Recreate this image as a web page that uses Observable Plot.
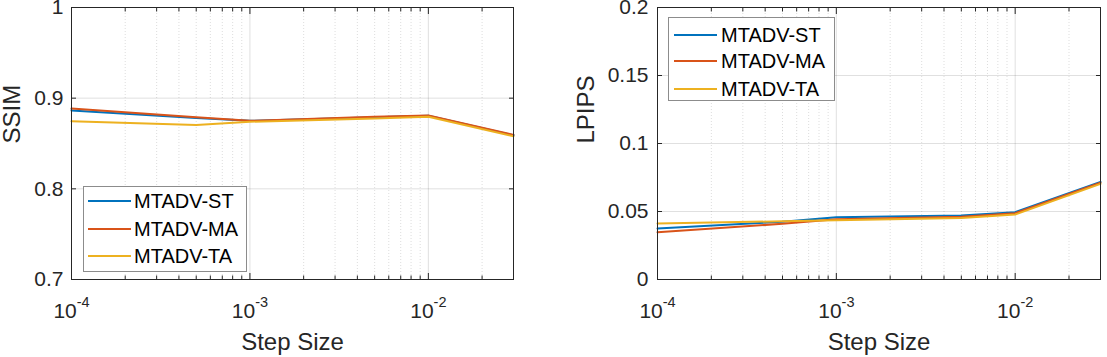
<!DOCTYPE html>
<html>
<head>
<meta charset="utf-8">
<script src="https://cdn.jsdelivr.net/npm/d3@7"></script>
<script src="https://cdn.jsdelivr.net/npm/@observablehq/plot@0.6"></script>
<style>
  html, body { margin: 0; padding: 0; background: #fff; }
  #wrap { position: relative; width: 1107px; height: 357px; overflow: hidden; font-family: "Liberation Sans", Arial, Helvetica, sans-serif; color: #262626; }
  #wrap > .panel { position: absolute; top: 0; }
  .legend { position: absolute; background: #fff; border: 1px solid #8c8c8c; box-sizing: border-box; }
  .legend .row { position: absolute; left: 0; height: 0; }
  .legend .swatch { position: absolute; height: 2px; margin-top: -1px; }
  .legend .lab { position: absolute; font-size: 20px; line-height: 20px; margin-top: -10px; white-space: nowrap; color: #000; }
</style>
</head>
<body>
<div id="wrap"></div>
<script>
// ---- data ----
const seriesNames = ["MTADV-ST", "MTADV-MA", "MTADV-TA"];
const seriesColors = ["#0072BD", "#D95319", "#EDB120"];
const stepSizes = [1e-4, 5e-4, 1e-3, 5e-3, 1e-2, 3e-2];

const ssimST = [0.8865, 0.8780, 0.8750, 0.8790, 0.8805, 0.8590];
const ssimMA = [0.8885, 0.8790, 0.8750, 0.8795, 0.8810, 0.8595];
const ssimTA = [0.8745, 0.8705, 0.8740, 0.8775, 0.8795, 0.8580];

const lpipsST = [0.0375, 0.0425, 0.0458, 0.0470, 0.0495, 0.0718];
const lpipsMA = [0.0348, 0.0410, 0.0443, 0.0462, 0.0488, 0.0712];
const lpipsTA = [0.0412, 0.0428, 0.0435, 0.0452, 0.0478, 0.0703];

const xMajorTicks = [1e-4, 1e-3, 1e-2];
const xMajorLabels = ["10^-4", "10^-3", "10^-2"];
const xMinorTicks = [2e-4, 3e-4, 4e-4, 5e-4, 6e-4, 7e-4, 8e-4, 9e-4,
                     2e-3, 3e-3, 4e-3, 5e-3, 6e-3, 7e-3, 8e-3, 9e-3, 2e-2];
const xDomain = [1e-4, 3e-2];

const ssimTicks = [0.7, 0.8, 0.9, 1];
const ssimLabels = ["0.7", "0.8", "0.9", "1"];
const lpipsTicks = [0, 0.05, 0.1, 0.15, 0.2];
const lpipsLabels = ["0", "0.05", "0.1", "0.15", "0.2"];

function table(values) {
  const rows = [];
  values.forEach((vals, s) => vals.forEach((v, i) => rows.push({series: seriesNames[s], x: stepSizes[i], y: v})));
  return rows;
}

const AX = "#262626";

function makePanel(cfg) {
  const data = table(cfg.values);
  const xlab = xMajorTicks.map((v, i) => ({v, label: xMajorLabels[i]}));
  const svg = Plot.plot({
    width: cfg.width,
    height: 357,
    marginTop: 7,
    marginBottom: 78,
    marginLeft: cfg.marginLeft,
    marginRight: cfg.marginRight,
    style: {fontFamily: '"Liberation Sans", Arial, Helvetica, sans-serif', color: AX, background: "#fff", overflow: "visible"},
    x: {type: "log", domain: xDomain},
    y: {domain: cfg.yDomain},
    color: {domain: seriesNames, range: seriesColors},
    marks: [
      Plot.gridX({ticks: xMinorTicks, stroke: AX, strokeOpacity: 0.2, strokeDasharray: "1,2", strokeWidth: 0.8}),
      Plot.gridX({ticks: xMajorTicks, stroke: AX, strokeOpacity: 0.14}),
      Plot.gridY({ticks: cfg.yTicks, stroke: AX, strokeOpacity: 0.14}),
      Plot.line(data, {x: "x", y: "y", z: "series", stroke: "series", strokeWidth: 2}),
      Plot.frame({stroke: AX, strokeWidth: 1}),
      // inward ticks
      Plot.axisX({anchor: "bottom", ticks: xMajorTicks, tickSize: -6, tickFormat: () => "", label: null, stroke: AX}),
      Plot.axisX({anchor: "top", ticks: xMajorTicks, tickSize: -6, tickFormat: () => "", label: null, stroke: AX}),
      Plot.axisX({anchor: "bottom", ticks: xMinorTicks, tickSize: -3.5, tickFormat: () => "", label: null, stroke: AX}),
      Plot.axisX({anchor: "top", ticks: xMinorTicks, tickSize: -3.5, tickFormat: () => "", label: null, stroke: AX}),
      Plot.axisY({anchor: "left", ticks: cfg.yTicks, tickSize: -5, tickFormat: () => "", label: null, stroke: AX}),
      Plot.axisY({anchor: "right", ticks: cfg.yTicks, tickSize: -5, tickFormat: () => "", label: null, stroke: AX}),
      // labels
      Plot.text(xlab, {x: "v", text: "label", frameAnchor: "bottom", lineAnchor: "top", dy: 23.5, fontSize: 21, fill: AX}),
      Plot.axisY({anchor: "left", ticks: cfg.yTicks, tickSize: 0, tickPadding: cfg.yPad, fontSize: 21,
                  tickFormat: (d, i) => cfg.yLabels[i], label: null, fill: AX}),
      Plot.text(["Step Size"], {frameAnchor: "bottom", lineAnchor: "middle", dy: 63, fontSize: 24, fill: AX}),
      Plot.text([cfg.yTitle], {frameAnchor: "left", lineAnchor: "middle", dx: cfg.yTitleDx, rotate: -90, fontSize: 24, fill: AX})
    ]
  });
  // superscript exponents on log ticks
  svg.querySelectorAll("text").forEach(t => {
    const m = /^10\^(-?\d+)$/.exec(t.textContent);
    if (m) {
      while (t.firstChild) t.removeChild(t.firstChild);
      t.appendChild(document.createTextNode("10"));
      const ts = document.createElementNS("http://www.w3.org/2000/svg", "tspan");
      ts.setAttribute("font-size", "14.5");
      ts.setAttribute("dy", "-10.5");
      ts.textContent = m[1];
      t.appendChild(ts);
    }
  });
  svg.classList.add("panel");
  svg.style.left = cfg.left + "px";
  return svg;
}

function makeLegend(box) {
  const el = document.createElement("div");
  el.className = "legend";
  Object.assign(el.style, {left: box.left + "px", top: box.top + "px", width: box.width + "px", height: box.height + "px"});
  seriesNames.forEach((name, i) => {
    const row = document.createElement("div");
    row.className = "row";
    row.style.top = box.rows[i] + "px";
    const sw = document.createElement("div");
    sw.className = "swatch";
    Object.assign(sw.style, {left: box.lineX0 + "px", width: (box.lineX1 - box.lineX0) + "px", background: seriesColors[i]});
    const lab = document.createElement("div");
    lab.className = "lab";
    lab.style.left = box.textX + "px";
    lab.textContent = name;
    row.appendChild(sw);
    row.appendChild(lab);
    el.appendChild(row);
  });
  return el;
}

const wrap = document.getElementById("wrap");
wrap.appendChild(makePanel({
  left: 0, width: 553, marginLeft: 71, marginRight: 40,
  values: [ssimST, ssimMA, ssimTA], yDomain: [0.7, 1], yTicks: ssimTicks, yLabels: ssimLabels,
  yPad: 8, yTitle: "SSIM", yTitleDx: -59
}));
wrap.appendChild(makePanel({
  left: 553, width: 554, marginLeft: 104, marginRight: 7,
  values: [lpipsST, lpipsMA, lpipsTA], yDomain: [0, 0.2], yTicks: lpipsTicks, yLabels: lpipsLabels,
  yPad: 9, yTitle: "LPIPS", yTitleDx: -71
}));
wrap.appendChild(makeLegend({left: 83, top: 186, width: 164, height: 86, rows: [14, 42, 69], lineX0: 4, lineX1: 47, textX: 50}));
wrap.appendChild(makeLegend({left: 668, top: 17, width: 167, height: 84, rows: [16.5, 43, 70.5], lineX0: 5, lineX1: 48, textX: 52}));
</script>
</body>
</html>
